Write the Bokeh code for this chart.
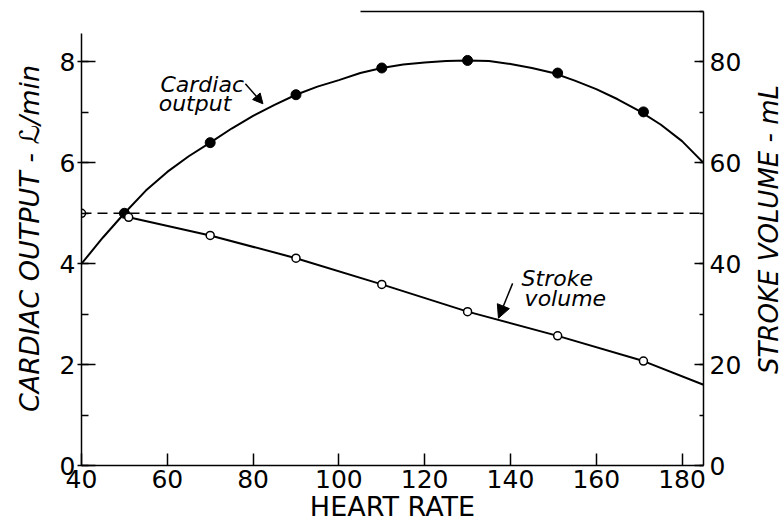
import math
from bokeh.plotting import figure
from bokeh.layouts import row
from bokeh.models import (Range1d, LinearAxis, SingleIntervalTicker, FixedTicker,
                          Arrow, NormalHead, Label)
from bokeh.embed import file_html
from bokeh.resources import INLINE

FONT = "DejaVu Sans"

# Measured points: heart rate (beats/min)
hr_co = [50, 70, 90, 110, 130, 151, 171]
cardiac_output = [5.0, 6.4, 7.35, 7.88, 8.03, 7.78, 7.01]          # L/min

hr_sv = [40, 51, 70, 90, 110, 130, 151, 171]
stroke_volume = [50, 49.2, 45.6, 41.1, 35.9, 30.5, 25.7, 20.7]     # mL

# Hand-drawn smooth curve through the cardiac output points
curve_hr = [40, 45, 50, 55, 60, 65, 70, 75, 80, 85, 90, 95, 100, 105, 110,
            115, 120, 125, 130, 135, 140, 145, 150, 155, 160, 165, 170, 175, 180, 185]
curve_co = [4.00, 4.52, 5.00, 5.45, 5.82, 6.13, 6.40, 6.68, 6.93, 7.15, 7.35,
            7.51, 7.64, 7.78, 7.88, 7.95, 7.99, 8.02, 8.03, 8.02, 7.96, 7.88,
            7.78, 7.63, 7.46, 7.26, 7.03, 6.76, 6.43, 6.00]

# Line through the stroke volume points, run out to the end of the axis
sv_line_hr = [51, 70, 90, 110, 130, 151, 171, 185]
sv_line = [49.2, 45.6, 41.1, 35.9, 30.5, 25.7, 20.7, 16.0]

# Resting stroke volume reference level
ref_hr = [40, 185]
ref_sv = [50, 50]

hr_range = (40, 185)
co_range = (0, 9)
sv_range = (0, 90)

p = figure(width=744, height=531, output_backend="svg", toolbar_location=None,
           x_range=Range1d(*hr_range), y_range=Range1d(*co_range),
           min_border_left=81, min_border_right=40, min_border_top=11,
           min_border_bottom=66, background_fill_color="white",
           border_fill_color="white")
p.extra_y_ranges = {"sv": Range1d(*sv_range)}
p.outline_line_color = None
p.grid.visible = False

tick_font = "25px"

# bottom axis
xa = p.xaxis[0]
xa.ticker = SingleIntervalTicker(interval=20, num_minor_ticks=0)
xa.major_tick_in = 12
xa.major_tick_out = 0
xa.minor_tick_in = 0
xa.minor_tick_out = 0
xa.axis_line_width = 1.5
xa.major_tick_line_width = 1.5
xa.major_label_standoff = 4
xa.major_label_text_font = FONT
xa.major_label_text_font_size = tick_font
xa.major_label_text_color = "black"
xa.axis_label = "HEART RATE"
xa.axis_label_text_font = FONT
xa.axis_label_text_font_size = "27px"
xa.axis_label_text_font_style = "normal"
xa.axis_label_standoff = 0
xa.axis_label_text_color = "black"

# left axis: cardiac output
ya = p.yaxis[0]
ya.ticker = SingleIntervalTicker(interval=2, num_minor_ticks=2)
ya.bounds = (0, 8.57)
ya.major_tick_in = 14
ya.major_tick_out = 4
ya.minor_tick_in = 7
ya.minor_tick_out = 0
ya.axis_line_width = 1.5
ya.major_tick_line_width = 1.5
ya.minor_tick_line_width = 1.5
ya.major_label_standoff = 2
ya.major_label_text_font = FONT
ya.major_label_text_font_size = tick_font
ya.major_label_text_color = "black"
ya.axis_label = "CARDIAC OUTPUT - \u2112/min"
ya.axis_label_text_font = FONT
ya.axis_label_text_font_size = "27px"
ya.axis_label_text_font_style = "italic"
ya.axis_label_standoff = 12
ya.axis_label_text_color = "black"

# right axis: stroke volume
ra = LinearAxis(y_range_name="sv",
                ticker=SingleIntervalTicker(interval=20, num_minor_ticks=2))
ra.major_tick_in = 9
ra.major_tick_out = 0
ra.minor_tick_in = 4
ra.minor_tick_out = 0
ra.axis_line_width = 1.5
ra.major_tick_line_width = 1.5
ra.minor_tick_line_width = 1.5
ra.major_label_standoff = 6
ra.major_label_text_font = FONT
ra.major_label_text_font_size = tick_font
ra.major_label_text_color = "black"
p.add_layout(ra, "right")

# top edge of the frame over the right part
ta = LinearAxis(ticker=FixedTicker(ticks=[]), bounds=(105, 185))
ta.major_tick_in = 0
ta.major_tick_out = 0
ta.minor_tick_in = 0
ta.minor_tick_out = 0
ta.major_label_standoff = 0
ta.major_label_text_font_size = "0px"
ta.axis_line_width = 1.5
p.add_layout(ta, "above")

# curves
p.line(curve_hr, curve_co, line_color="black", line_width=2)
p.line(sv_line_hr, sv_line, y_range_name="sv", line_color="black", line_width=2)
p.line(ref_hr, ref_sv, y_range_name="sv", line_color="black", line_width=1.5,
       line_dash="10 6")

# data points
p.scatter(hr_co, cardiac_output, size=10, fill_color="black", line_color="black")
p.scatter(hr_sv, stroke_volume, y_range_name="sv", size=8, fill_color="white",
          line_color="black", line_width=1.5)

# curve annotations
note = dict(text_font=FONT, text_font_size="22px", text_font_style="italic",
            text_color="black", text_baseline="alphabetic")
p.add_layout(Label(x=58.4, y=7.55, text="Cardiac", **note))
p.add_layout(Label(x=58.0, y=7.18, text="output", **note))
p.add_layout(Arrow(end=NormalHead(size=10, fill_color="black", line_color="black"),
                   x_start=78.2, y_start=7.57, x_end=82.3, y_end=7.17,
                   line_width=1.5, line_color="black"))

p.add_layout(Label(x=142.6, y=3.70, text="Stroke", **note))
p.add_layout(Label(x=143.3, y=3.31, text="volume", **note))
p.add_layout(Arrow(end=NormalHead(size=13, fill_color="black", line_color="black"),
                   x_start=140.5, y_start=3.61, x_end=137.2, y_end=2.92,
                   line_width=1.5, line_color="black"))

# narrow strip holding the right-hand title, reading upwards
strip = figure(width=40, height=531, output_backend="svg", toolbar_location=None,
               x_range=Range1d(0, 40), y_range=Range1d(0, 531),
               x_axis_location=None, y_axis_location=None,
               min_border=0, background_fill_color="white",
               border_fill_color="white")
strip.outline_line_color = None
strip.grid.visible = False
strip.add_layout(Label(x=24, y=276, text="STROKE VOLUME - mL", angle=math.pi / 2,
                       text_align="center", text_baseline="middle",
                       text_font=FONT, text_font_size="26px",
                       text_font_style="italic", text_color="black"))

layout = row(p, strip)
open("out.html", "w").write(file_html(layout, INLINE))
